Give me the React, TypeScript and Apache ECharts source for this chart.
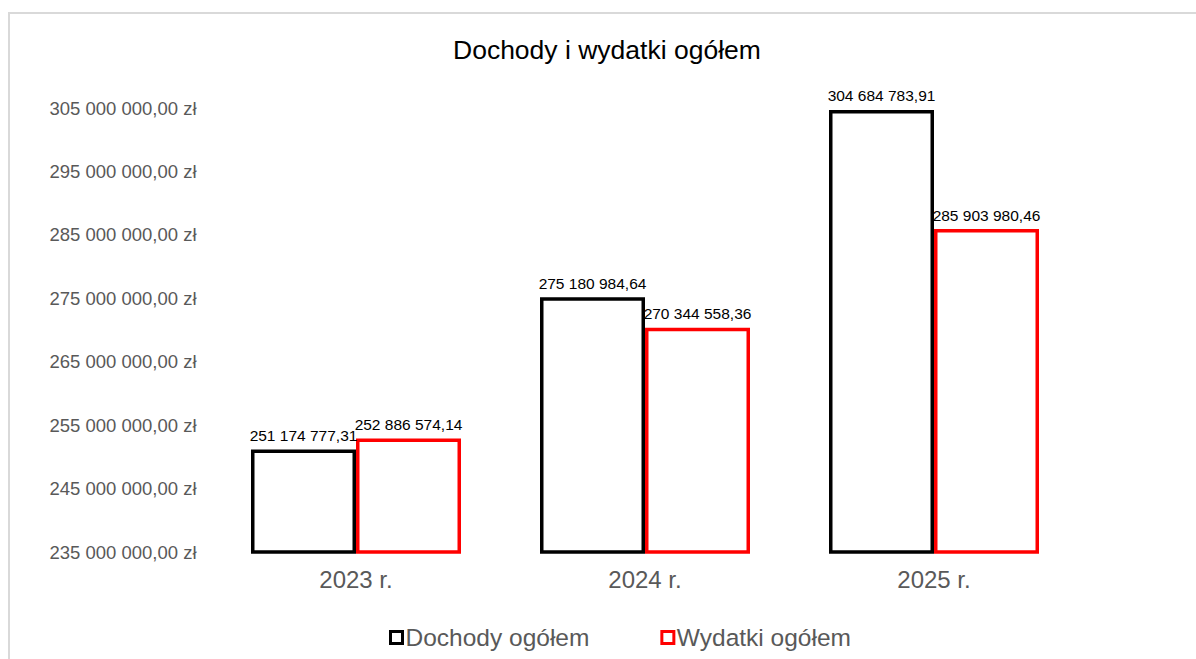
import React, { useEffect, useRef } from "react";
import * as echarts from "echarts";

const categories = ["2023 r.", "2024 r.", "2025 r."];
const dochody = [251174777.31, 275180984.64, 304684783.91];
const wydatki = [252886574.14, 270344558.36, 285903980.46];
const seriesNames = ["Dochody ogółem", "Wydatki ogółem"];
const titleText = "Dochody i wydatki ogółem";
const yMin = 235000000;
const yMax = 305000000;
const labelStep = 10000000;

function groupDigits(intStr: string): string {
  return intStr.replace(/\B(?=(\d{3})+(?!\d))/g, " ");
}

function formatMoney(v: number): string {
  const fixed = v.toFixed(2);
  const [i, d] = fixed.split(".");
  return groupDigits(i) + "," + d;
}

export default function App() {
  const ref = useRef<HTMLDivElement>(null);
  useEffect(() => {
    if (!ref.current) return;
    const chart = echarts.init(ref.current, undefined, { renderer: "svg" });
    const font = "'Liberation Sans', Arial, sans-serif";
    chart.setOption({
      animation: false,
      backgroundColor: "#ffffff",
      textStyle: { fontFamily: font },
      title: {
        text: titleText,
        left: 448,
        top: 31,
        textStyle: { fontFamily: font, fontSize: 26.5, fontWeight: "normal", color: "#000000" },
      },
      graphic: [
        {
          type: "rect",
          shape: { x: 9, y: 13, width: 1400, height: 900 },
          style: { fill: "none", stroke: "#d9d9d9", lineWidth: 2 },
          silent: true,
        },
      ],
      legend: {
        top: 620,
        left: 384,
        itemGap: 71,
        itemWidth: 12,
        itemHeight: 12,
        icon: "rect",
        itemStyle: { borderWidth: 3 },
        textStyle: { fontFamily: font, fontSize: 24.5, color: "#595959", padding: [0, 0, 0, -2] },
        data: seriesNames,
      },
      grid: { left: 211.5, right: 117.5, top: 108, bottom: 107, containLabel: false },
      xAxis: {
        type: "category",
        data: categories,
        axisLine: { show: false },
        axisTick: { show: false },
        axisLabel: { fontFamily: font, fontSize: 24, color: "#595959", margin: 15 },
      },
      yAxis: {
        type: "value",
        min: yMin,
        max: yMax,
        interval: 5000000,
        splitLine: { show: false },
        axisLine: { show: false },
        axisTick: { show: false },
        axisLabel: {
          fontFamily: font,
          fontSize: 18.5,
          color: "#595959",
          margin: 15,
          formatter: (v: number) =>
            Math.round(v - yMin) % labelStep === 0 ? formatMoney(v) + " zł" : "",
        },
      },
      series: [
        {
          name: seriesNames[0],
          type: "bar",
          data: dochody,
          barWidth: 105,
          barGap: "0%",
          itemStyle: { color: "#ffffff", borderColor: "#000000", borderWidth: 3.5 },
          label: {
            show: true,
            position: "top",
            distance: 6,
            fontFamily: font,
            fontSize: 15.5,
            color: "#000000",
            formatter: (p: any) => formatMoney(p.value),
          },
        },
        {
          name: seriesNames[1],
          type: "bar",
          data: wydatki,
          barWidth: 105,
          barGap: "0%",
          itemStyle: { color: "#ffffff", borderColor: "#ff0000", borderWidth: 3.5 },
          label: {
            show: true,
            position: "top",
            distance: 6,
            fontFamily: font,
            fontSize: 15.5,
            color: "#000000",
            formatter: (p: any) => formatMoney(p.value),
          },
        },
      ],
    });
    return () => chart.dispose();
  }, []);
  return (
    <div
      ref={ref}
      style={{ position: "absolute", left: 0, top: 0, width: 1196, height: 659 }}
    />
  );
}
